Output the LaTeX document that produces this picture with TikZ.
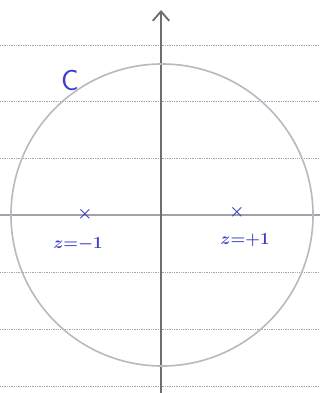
\documentclass[tikz,border=0pt]{standalone}
\usepackage{amsmath}
\usepackage{xcolor}
\usepackage{tikz}
\usetikzlibrary{positioning, arrows.meta}

\definecolor{inkblue}{RGB}{60,60,200}
\definecolor{pencil}{RGB}{185,185,195}
\definecolor{ruleline}{RGB}{165,165,165}
\definecolor{axisgrey}{RGB}{110,110,110}

\begin{document}
\begin{tikzpicture}[x=0.03cm, y=-0.03cm,
    ruled/.style={ruleline, densely dotted, line width=0.5pt},
    axisline/.style={axisgrey, line width=0.9pt},
    contour/.style={pencil, line width=1.4pt},
    pole/.style={inkblue, font=\Large\boldmath, inner sep=0pt},
    polelabel/.style={inkblue, font=\Large\boldmath, inner sep=1pt}]
  \useasboundingbox (0,0) rectangle (320,393);

  % notebook ruling
  \foreach \y in {45,101,158,272,329,386}
    \draw[ruled] (0,\y) -- (320,\y);

  % axes
  \coordinate (xleft) at (0,215);
  \coordinate (xright) at (320,215);
  \coordinate (ybottom) at (161,393);
  \coordinate (ytop) at (161,10);
  \draw[axisline, pencil!70!axisgrey, line width=1.2pt] (xleft) -- (xright);
  \draw[axisline, -{Straight Barb[length=8pt, width=14pt, line width=1.6pt]}] (ybottom) -- (ytop);

  % contour C
  \coordinate (origin) at (162,215);
  \draw[contour] (origin) circle[radius=4.53cm];
  \node (clabel) [inkblue, font=\Huge\sffamily] at (70,80) {C};

  % poles
  \node (zminus) [pole] at (85,214) {$\times$};
  \node (zplus) [pole] at (237,212) {$\times$};
  \node (zminuslabel) [polelabel] at (78,244) {$z{=}{-}1$};
  \node (zpluslabel) [polelabel] at (245,240) {$z{=}{+}1$};
\end{tikzpicture}
\end{document}
